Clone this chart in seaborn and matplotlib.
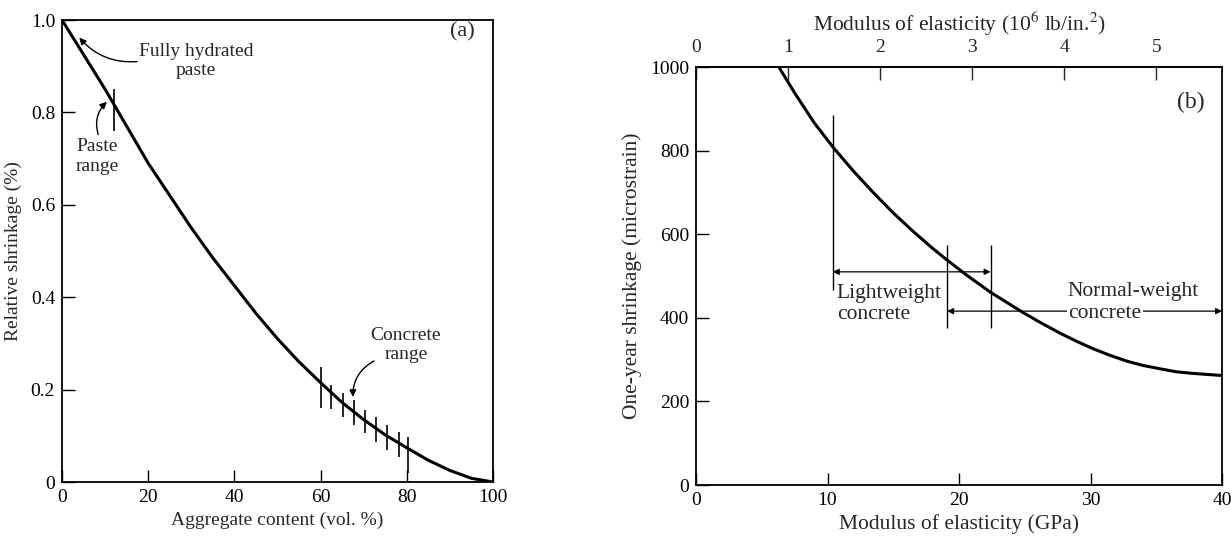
import numpy as np
import pandas as pd
import matplotlib
matplotlib.use("Agg")
import matplotlib.pyplot as plt
import seaborn as sns

# ---------------- data ----------------
# Panel (a)
agg_content = [0, 5, 10, 15, 20, 25, 30, 35, 40, 45, 50, 55, 60, 65, 70, 75, 80, 85, 90, 95, 100]
rel_shrink = [1.0, 0.925, 0.85, 0.77, 0.69, 0.62, 0.55, 0.485, 0.425, 0.365, 0.31, 0.26, 0.215,
              0.172, 0.135, 0.102, 0.074, 0.047, 0.025, 0.008, 0.0]
paste_tick_x = [12]
paste_tick_lo = [0.76]
paste_tick_hi = [0.85]
concrete_tick_x = [60, 62.5, 65.1, 67.7, 70.3, 72.9, 75.5, 78.1, 80.2]
concrete_tick_lo = [0.160, 0.158, 0.141, 0.123, 0.106, 0.087, 0.069, 0.054, 0.019]
concrete_tick_hi = [0.249, 0.210, 0.193, 0.178, 0.156, 0.141, 0.123, 0.108, 0.097]

# Panel (b)
modulus_gpa = [6.3, 7.5, 9, 10.5, 12, 13.5, 15, 16.5, 18, 19.1, 20.5, 22.4, 24.8, 26, 27.7,
               29, 30.2, 31.5, 32.8, 34, 35.3, 36.5, 37.8, 40]
shrink_1yr = [1000, 938, 866, 805, 750, 699, 651, 607, 566, 538, 504, 461, 414, 392, 363,
              343, 326, 310, 296, 286, 278, 271, 267, 262]
lw_range = [10.4, 22.4]
nw_range = [19.1, 40]
vlines_x = [10.4, 19.1, 22.4]
vlines_lo = [466, 376, 376]
vlines_hi = [885, 574, 574]
lw_arrow_y = 510
nw_arrow_y = 416
GPA_PER_MPSI = 7.0  # spacing of the top axis as drawn

# ---------------- style ----------------
sns.set_style("ticks")
plt.rcParams["font.family"] = ["Liberation Serif", "DejaVu Serif"]
plt.rcParams["mathtext.fontset"] = "stix"
FA = 14      # panel (a) texts
FB = 15.5    # panel (b) texts
FT = 14      # tick labels

fig = plt.figure(figsize=(12.31, 5.47), dpi=100)
axa = fig.add_axes([0.0504, 0.1188, 0.3501, 0.8446])
axb = fig.add_axes([0.5654, 0.1133, 0.4273, 0.7642])

arrow_kw = dict(arrowstyle="-|>", color="black", lw=1.0, shrinkA=0, shrinkB=0, mutation_scale=10)

# ---------- panel (a) ----------
dfa = pd.DataFrame({"x": agg_content, "y": rel_shrink})
sns.lineplot(data=dfa, x="x", y="y", ax=axa, color="black", lw=2.2)
axa.vlines(paste_tick_x, paste_tick_lo, paste_tick_hi, color="black", lw=1.2)
axa.vlines(concrete_tick_x, concrete_tick_lo, concrete_tick_hi, color="black", lw=1.2)
axa.set_xlim(0, 100)
axa.set_ylim(0, 1.0)
axa.set_xticks([0, 20, 40, 60, 80, 100])
axa.set_yticks([0, 0.2, 0.4, 0.6, 0.8, 1.0])
axa.set_yticklabels(["0", "0.2", "0.4", "0.6", "0.8", "1.0"])
axa.set_xlabel("Aggregate content (vol. %)", fontsize=FA, labelpad=4)
axa.set_ylabel("Relative shrinkage (%)", fontsize=FA, labelpad=6)
axa.text(93, 0.975, "(a)", fontsize=16, ha="center", va="center")

axa.text(31.1, 0.911, "Fully hydrated\npaste", ha="center", va="center", fontsize=FA)
axa.annotate("", xy=(4.0, 0.962), xytext=(17.4, 0.91),
             arrowprops=dict(connectionstyle="arc3,rad=-0.25", **arrow_kw))
axa.text(8.2, 0.705, "Paste\nrange", ha="center", va="center", fontsize=FA)
axa.annotate("", xy=(10.4, 0.823), xytext=(8.4, 0.752),
             arrowprops=dict(connectionstyle="arc3,rad=-0.3", **arrow_kw))
axa.text(79.8, 0.297, "Concrete\nrange", ha="center", va="center", fontsize=FA)
axa.annotate("", xy=(67.5, 0.184), xytext=(72.4, 0.262),
             arrowprops=dict(connectionstyle="arc3,rad=0.3", **arrow_kw))

# ---------- panel (b) ----------
dfb = pd.DataFrame({"E": modulus_gpa, "s": shrink_1yr})
sns.lineplot(data=dfb, x="E", y="s", ax=axb, color="black", lw=2.2)
axb.vlines(vlines_x, vlines_lo, vlines_hi, color="black", lw=1.0)
axb.annotate("", xy=(lw_range[0], lw_arrow_y), xytext=(lw_range[1], lw_arrow_y),
             arrowprops=dict(arrowstyle="<|-|>", color="black", lw=0.9, shrinkA=0, shrinkB=0,
                             mutation_scale=9))
axb.annotate("", xy=(nw_range[0], nw_arrow_y), xytext=(nw_range[1], nw_arrow_y),
             arrowprops=dict(arrowstyle="<|-|>", color="black", lw=0.9, shrinkA=0, shrinkB=0,
                             mutation_scale=9))
axb.text(10.7, 433, "Lightweight\nconcrete", ha="left", va="center", fontsize=FB,
         multialignment="left")
axb.text(33.2, 462, "Normal-weight", ha="center", va="center", fontsize=FB)
axb.text(31.1, 411, "concrete", ha="center", va="center", fontsize=FB,
         bbox=dict(boxstyle="square,pad=0.08", fc="white", ec="none"))
axb.text(37.6, 915, "(b)", fontsize=17, ha="center", va="center")
axb.set_xlim(0, 40)
axb.set_ylim(0, 1000)
axb.set_xticks([0, 10, 20, 30, 40])
axb.set_yticks([0, 200, 400, 600, 800, 1000])
axb.set_xlabel("Modulus of elasticity (GPa)", fontsize=FB, labelpad=4)
axb.set_ylabel("One-year shrinkage (microstrain)", fontsize=FB, labelpad=6)

top = axb.secondary_xaxis("top", functions=(lambda x: x / GPA_PER_MPSI,
                                            lambda u: u * GPA_PER_MPSI))
top.set_xticks([0, 1, 2, 3, 4, 5])
top.set_xlabel("Modulus of elasticity (10$^6$ lb/in.$^2$)", fontsize=FB, labelpad=6)
top.tick_params(direction="in", length=9, width=1.0, labelsize=FT, pad=8)

for ax in (axa, axb):
    for sp in ax.spines.values():
        sp.set_visible(True)
        sp.set_linewidth(1.3)
        sp.set_color("black")
    ax.tick_params(direction="in", length=9, width=1.0, labelsize=FT, colors="black",
                   top=False, right=False, pad=5)
    ax.set_facecolor("white")
top.spines["top"].set_linewidth(1.3)

fig.savefig("out.png", dpi=100, facecolor="white")
